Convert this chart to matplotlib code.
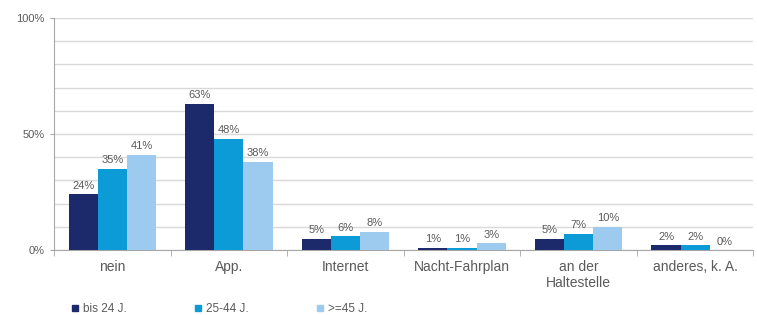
import numpy as np
import matplotlib.pyplot as plt
from matplotlib.lines import Line2D

plt.rcParams['font.family'] = ['Liberation Sans', 'DejaVu Sans']

# Daten
kategorien = ['nein', 'App.', 'Internet', 'Nacht-Fahrplan', 'an der\nHaltestelle', 'anderes, k. A.']
gruppen = ['bis 24 J.', '25-44 J.', '>=45 J.']
bis_24 = [24, 63, 5, 1, 5, 2]
von_25_44 = [35, 48, 6, 1, 7, 2]
ab_45 = [41, 38, 8, 3, 10, 0]
farben = ['#1c2a6b', '#0d9bd8', '#9dcaef']

grau = '#5a5a5a'

fig = plt.figure(figsize=(7.57, 3.15), dpi=100)
ax = fig.add_axes([0.0713, 0.206, 0.924, 0.737])

x = np.arange(len(kategorien))
breite = 0.25
for i, (werte, farbe) in enumerate(zip([bis_24, von_25_44, ab_45], farben)):
    pos = x + (i - 1) * breite
    ax.bar(pos, werte, width=breite, color=farbe, zorder=3)
    for px, v in zip(pos, werte):
        ax.text(px, v + 1.5, f'{v}%', ha='center', va='bottom', fontsize=8, color=grau)

ax.set_xlim(-0.5, len(kategorien) - 0.5)
ax.set_ylim(0, 100)
ax.set_yticks([0, 50, 100])
ax.set_yticklabels(['0%', '50%', '100%'], fontsize=8, color=grau)
ax.set_yticks(np.arange(0, 101, 10), minor=True)
ax.yaxis.grid(True, which='both', color='#d9d9d9', linewidth=1, zorder=0)
ax.tick_params(axis='y', which='major', length=3, color='#a6a6a6', pad=4)
ax.tick_params(axis='y', which='minor', length=0)

ax.set_xticks(x)
ax.set_xticklabels(kategorien, fontsize=10, color=grau)
ax.set_xticks(np.arange(-0.5, len(kategorien), 1), minor=True)
ax.tick_params(axis='x', which='major', length=0, pad=7)
ax.tick_params(axis='x', which='minor', length=4, color='#a6a6a6')

for s in ['top', 'right']:
    ax.spines[s].set_visible(False)
ax.spines['left'].set_color('#a6a6a6')
ax.spines['bottom'].set_color('#a6a6a6')

handles = [Line2D([], [], marker='s', linestyle='none', markersize=5,
                  markerfacecolor=f, markeredgecolor=f) for f in farben]
fig.legend(handles, gruppen, loc='lower left', bbox_to_anchor=(0.079, -0.035), ncol=3,
           frameon=False, fontsize=8.5, handletextpad=0.3, columnspacing=5.6,
           labelcolor=grau, handlelength=0.8)

fig.savefig('out.png', dpi=100)
